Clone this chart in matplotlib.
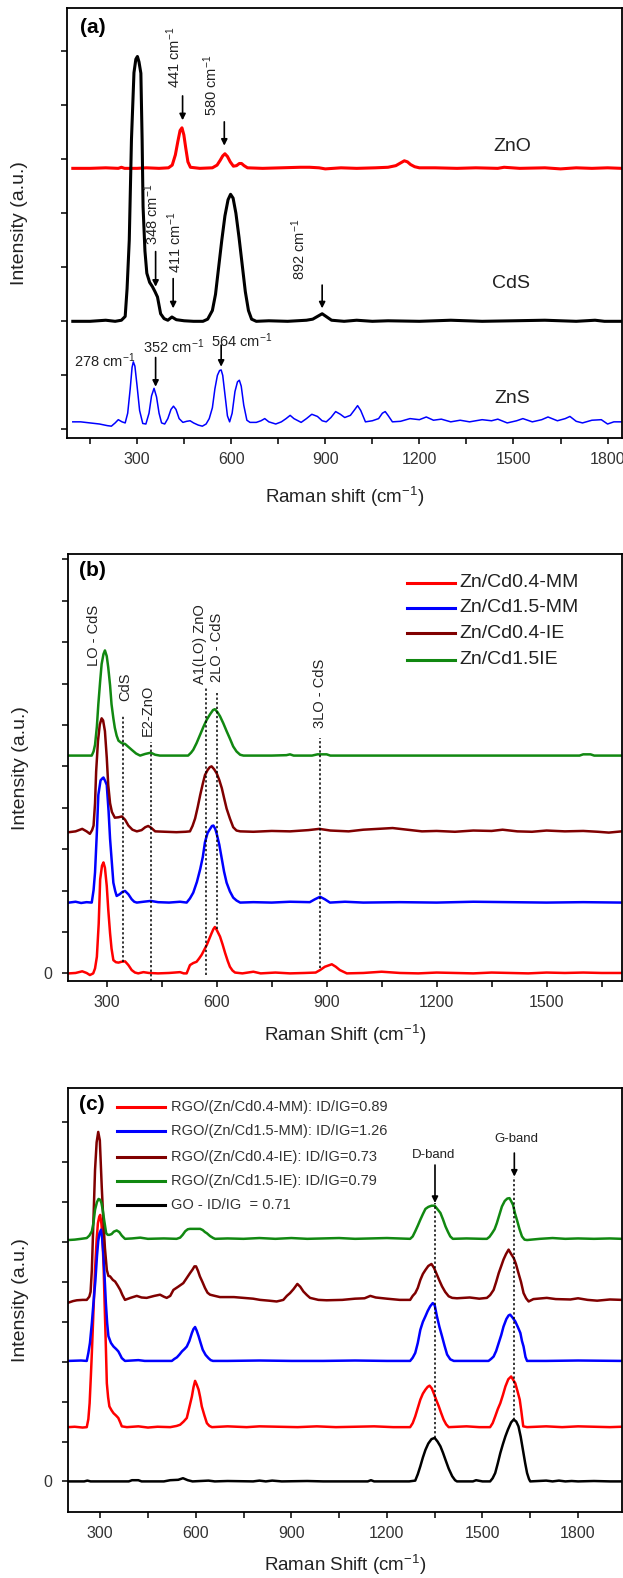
import numpy as np
import matplotlib
matplotlib.use('Agg')
import matplotlib.pyplot as plt
from matplotlib.ticker import MultipleLocator

plt.rcParams['font.family'] = ['Liberation Sans', 'DejaVu Sans']
plt.rcParams['mathtext.default'] = 'regular'

RED, BLUE, MAROON, GREEN, BLACK = '#ff0000', '#0000ff', '#800000', '#118811', '#000000'
TXT = '#222222'

# ---------------- panel (a): reference phases ----------------
A_NAMES = ['ZnO', 'CdS', 'ZnS']
A_OFFSETS = [4.83, 2.0, 0.0]
ZNO = [(95, 0), (150, 0), (200, 0.01), (240, 0), (250, 0.02), (260, 0), (300, 0), (330, 0.01),
       (370, 0), (400, 0.01), (412, 0.06), (422, 0.25), (430, 0.5), (437, 0.7), (443, 0.75),
       (449, 0.62), (455, 0.38), (462, 0.12), (470, 0.02), (500, 0), (540, 0.01), (555, 0.06),
       (565, 0.15), (573, 0.23), (580, 0.27), (588, 0.22), (597, 0.12), (607, 0.04), (617, 0.05),
       (626, 0.09), (633, 0.09), (641, 0.05), (652, 0.01), (700, 0), (760, 0.01), (820, 0.02),
       (850, 0.02), (880, 0.01), (900, -0.01), (950, 0.01), (1000, 0), (1060, 0.01), (1100, 0.02),
       (1125, 0.05), (1140, 0.1), (1152, 0.14), (1162, 0.12), (1172, 0.07), (1185, 0.03),
       (1200, 0.01), (1250, 0.01), (1320, 0), (1380, 0.01), (1450, 0), (1470, 0.02), (1520, 0),
       (1600, 0.01), (1650, -0.01), (1700, 0.01), (1750, 0), (1800, 0.01), (1845, 0)]
CDS = [(95, 0), (150, 0), (200, 0.02), (230, 0), (250, 0.02), (262, 0.09), (268, 0.6), (275, 1.5),
       (282, 3.36), (290, 4.6), (296, 4.85), (301, 4.9), (306, 4.8), (312, 4.59), (316, 3.36),
       (319, 2.12), (325, 1.3), (331, 0.89), (340, 0.72), (349, 0.64), (357, 0.55), (365, 0.45),
       (375, 0.14), (386, 0.05), (398, 0.02), (411, 0.08), (425, 0.03), (450, 0.01), (480, 0),
       (510, 0), (525, 0.04), (540, 0.2), (550, 0.5), (560, 1.0), (570, 1.5), (580, 1.95),
       (590, 2.25), (598, 2.35), (606, 2.28), (615, 2.0), (625, 1.55), (635, 1.05), (645, 0.55),
       (655, 0.2), (665, 0.04), (680, 0), (720, 0.01), (780, 0), (840, 0.02), (860, 0.04),
       (875, 0.09), (890, 0.14), (905, 0.08), (920, 0.02), (960, 0), (1000, 0.02), (1050, 0),
       (1100, 0.01), (1200, 0), (1300, 0.02), (1400, 0), (1500, 0.01), (1600, 0.02), (1700, 0),
       (1760, 0.02), (1790, 0), (1845, 0)]
ZNS = [(95, 0.14), (120, 0.14), (150, 0.12), (180, 0.1), (205, 0.07), (218, 0.06), (230, 0.12),
       (240, 0.18), (252, 0.14), (262, 0.12), (270, 0.3), (278, 0.75), (284, 1.15), (288, 1.25),
       (293, 1.17), (300, 0.8), (308, 0.35), (318, 0.11), (328, 0.1), (338, 0.3), (346, 0.62),
       (354, 0.76), (362, 0.6), (370, 0.3), (378, 0.12), (388, 0.1), (398, 0.2), (408, 0.37),
       (416, 0.43), (424, 0.37), (434, 0.2), (446, 0.13), (458, 0.15), (469, 0.16), (480, 0.12),
       (495, 0.08), (508, 0.06), (520, 0.1), (530, 0.2), (540, 0.4), (548, 0.75), (556, 1.0),
       (563, 1.09), (568, 1.1), (573, 1.0), (580, 0.65), (588, 0.25), (595, 0.14), (603, 0.3),
       (612, 0.7), (620, 0.88), (626, 0.91), (632, 0.8), (640, 0.45), (650, 0.17), (660, 0.13),
       (680, 0.13), (695, 0.16), (707, 0.2), (720, 0.14), (742, 0.1), (760, 0.14), (775, 0.2),
       (788, 0.26), (800, 0.2), (823, 0.13), (840, 0.2), (857, 0.28), (875, 0.24), (890, 0.16),
       (903, 0.14), (918, 0.22), (933, 0.33), (948, 0.28), (962, 0.22), (980, 0.26), (993, 0.36),
       (1003, 0.44), (1013, 0.35), (1028, 0.14), (1050, 0.16), (1070, 0.2), (1082, 0.3),
       (1091, 0.33), (1100, 0.26), (1114, 0.14), (1140, 0.15), (1170, 0.2), (1200, 0.18),
       (1222, 0.23), (1245, 0.17), (1270, 0.19), (1300, 0.14), (1330, 0.17), (1360, 0.14),
       (1400, 0.18), (1430, 0.16), (1450, 0.19), (1480, 0.12), (1510, 0.16), (1530, 0.2),
       (1560, 0.14), (1590, 0.18), (1610, 0.23), (1640, 0.16), (1665, 0.2), (1680, 0.24),
       (1700, 0.15), (1720, 0.12), (1750, 0.17), (1780, 0.18), (1800, 0.1), (1820, 0.14), (1845, 0.14)]

# ---------------- panel (b): Zn/Cd composites ----------------
B_NAMES = ['Zn/Cd0.4-MM', 'Zn/Cd1.5-MM', 'Zn/Cd0.4-IE', 'Zn/Cd1.5IE']
B_OFFSETS = [0.0, 1.71, 3.41, 5.26]
B_RED = [(197, 0), (215, 0.01), (233, 0.05), (245, 0.01), (254, -0.04), (263, 0), (268, 0.12),
         (273, 0.4), (278, 1.2), (282, 2.27), (287, 2.6), (291, 2.68), (295, 2.55), (300, 2.11),
         (304, 1.55), (309, 0.97), (313, 0.6), (318, 0.32), (325, 0.27), (332, 0.26), (340, 0.28),
         (350, 0.29), (359, 0.2), (368, 0.08), (377, 0.02), (386, 0), (400, 0.03), (415, 0.01),
         (440, 0), (470, 0.01), (500, 0.03), (510, 0), (518, 0), (527, 0.2), (536, 0.25),
         (545, 0.28), (552, 0.36), (559, 0.45), (566, 0.57), (573, 0.69), (580, 0.84), (586, 0.97),
         (591, 1.07), (595, 1.12), (600, 1.05), (609, 0.89), (616, 0.7), (623, 0.49), (630, 0.3),
         (636, 0.16), (643, 0.07), (650, 0.02), (670, 0), (700, 0.04), (720, 0), (760, 0.02),
         (800, 0), (840, 0.01), (870, 0.02), (882, 0.08), (895, 0.16), (914, 0.22), (925, 0.16),
         (936, 0.08), (955, 0), (1000, 0.01), (1050, 0.04), (1100, 0.01), (1150, 0), (1200, 0.02),
         (1250, 0.01), (1300, 0), (1350, 0.02), (1400, 0.01), (1450, 0), (1500, 0.02),
         (1550, 0.01), (1600, 0.02), (1650, 0.01), (1705, 0.01)]
B_BLUE = [(197, 0), (215, 0.02), (230, -0.01), (245, 0.01), (259, 0), (264, 0.3), (268, 0.73),
          (273, 1.7), (277, 2.6), (283, 2.95), (288, 3.0), (291, 3.02), (296, 2.93), (300, 2.84),
          (305, 2.2), (309, 1.54), (314, 0.95), (318, 0.48), (323, 0.28), (327, 0.16), (335, 0.2),
          (343, 0.26), (350, 0.28), (359, 0.2), (368, 0.08), (375, 0.02), (382, 0), (400, 0.02),
          (420, 0.04), (440, 0.01), (470, 0), (500, 0.02), (518, 0), (527, 0.1), (536, 0.24),
          (546, 0.5), (555, 0.81), (562, 1.1), (568, 1.46), (575, 1.68), (582, 1.78), (587, 1.85),
          (591, 1.86), (596, 1.78), (600, 1.66), (607, 1.4), (614, 1.05), (620, 0.75), (627, 0.48),
          (636, 0.27), (645, 0.12), (654, 0.05), (664, 0), (700, 0.01), (750, 0), (800, 0.02),
          (854, 0.01), (868, 0.08), (882, 0.14), (895, 0.08), (909, 0), (950, 0.02), (1000, 0),
          (1100, 0.01), (1200, 0), (1300, 0.02), (1400, 0.01), (1500, 0), (1600, 0.01), (1705, 0)]
B_MAROON = [(197, 0), (215, 0.02), (233, 0.08), (245, 0.02), (254, -0.04), (260, 0.05),
            (264, 0.16), (268, 0.7), (271, 1.46), (276, 2.2), (281, 2.6), (286, 2.75), (290, 2.7),
            (295, 2.44), (300, 1.8), (304, 1.14), (309, 0.7), (314, 0.49), (322, 0.35), (332, 0.36),
            (341, 0.38), (350, 0.3), (359, 0.16), (370, 0.06), (382, 0.02), (395, 0.05), (405, 0.12),
            (413, 0.15), (422, 0.1), (432, 0.02), (460, 0.01), (490, 0), (515, 0.01), (527, 0.02),
            (534, 0.15), (541, 0.33), (548, 0.6), (555, 0.9), (562, 1.17), (568, 1.38), (575, 1.5),
            (581, 1.57), (586, 1.59), (593, 1.52), (600, 1.42), (607, 1.26), (614, 1.06), (620, 0.83),
            (627, 0.57), (636, 0.33), (645, 0.12), (654, 0.04), (664, 0.02), (700, 0.01), (750, 0.03),
            (800, 0.02), (850, 0.05), (880, 0.08), (910, 0.04), (960, 0.02), (1000, 0.06),
            (1040, 0.08), (1080, 0.1), (1120, 0.06), (1160, 0.02), (1200, 0.03), (1250, 0.01),
            (1300, 0.04), (1350, 0.03), (1380, 0.06), (1420, 0.02), (1460, 0.01), (1500, 0.04),
            (1550, 0.02), (1600, 0.03), (1640, 0.01), (1670, -0.01), (1705, 0.02)]
B_GREEN = [(197, 0), (230, 0), (259, 0), (264, 0.1), (268, 0.26), (273, 0.7), (277, 1.24),
           (282, 1.8), (286, 2.21), (291, 2.45), (295, 2.54), (300, 2.4), (304, 2.13), (309, 1.7),
           (313, 1.24), (318, 0.9), (322, 0.67), (327, 0.48), (332, 0.36), (341, 0.3), (350, 0.28),
           (359, 0.21), (368, 0.14), (380, 0.05), (391, 0), (405, 0.04), (420, 0.07), (432, 0.02),
           (445, 0), (480, 0), (522, 0), (530, 0.07), (536, 0.14), (545, 0.3), (555, 0.51),
           (564, 0.7), (573, 0.87), (582, 1.0), (590, 1.1), (595, 1.12), (602, 1.05), (609, 0.95),
           (618, 0.78), (627, 0.59), (636, 0.41), (645, 0.22), (654, 0.1), (664, 0.02), (673, 0),
           (750, 0), (790, 0.01), (800, 0.03), (810, 0), (860, 0), (875, 0.03), (900, 0.03),
           (910, 0), (1000, 0), (1200, 0), (1400, 0), (1590, 0), (1600, 0.03), (1620, 0.03),
           (1630, 0), (1705, 0)]

# ---------------- panel (c): RGO composites ----------------
C_NAMES = ['RGO/(Zn/Cd0.4-MM): ID/IG=0.89', 'RGO/(Zn/Cd1.5-MM): ID/IG=1.26',
           'RGO/(Zn/Cd0.4-IE): ID/IG=0.73', 'RGO/(Zn/Cd1.5-IE): ID/IG=0.79', 'GO - ID/IG  = 0.71']
C_OFFSETS = [1.36, 3.02, 4.55, 6.08, 0.0]
C_RED = [(200, 0), (220, 0.01), (245, -0.01), (258, 0), (263, 0.2), (267, 0.6), (271, 1.3),
         (274, 1.86), (279, 2.9), (284, 3.94), (289, 4.7), (293, 5.11), (297, 5.27), (300, 5.32),
         (304, 5.1), (307, 4.78), (311, 4.0), (314, 3.11), (318, 2.0), (321, 1.1), (325, 0.75),
         (329, 0.52), (336, 0.42), (342, 0.35), (350, 0.29), (357, 0.23), (363, 0.12), (368, 0.02),
         (384, 0), (420, 0.02), (450, -0.01), (480, 0.01), (520, 0), (540, 0.03), (551, 0.06),
         (562, 0.14), (572, 0.23), (580, 0.5), (588, 0.77), (593, 1.0), (598, 1.16), (603, 1.07),
         (609, 0.94), (614, 0.75), (619, 0.52), (627, 0.3), (635, 0.1), (643, 0.03), (651, 0),
         (700, 0.02), (760, 0), (800, 0.02), (860, 0.01), (920, 0), (980, 0.02), (1040, 0),
         (1100, 0.01), (1160, 0.02), (1220, 0), (1273, 0), (1281, 0.1), (1289, 0.27), (1297, 0.48),
         (1305, 0.69), (1313, 0.84), (1321, 0.94), (1328, 1.01), (1334, 1.04), (1341, 0.97),
         (1347, 0.85), (1355, 0.68), (1363, 0.52), (1370, 0.36), (1378, 0.19), (1386, 0.07),
         (1394, 0), (1450, 0.02), (1490, 0), (1524, 0), (1532, 0.1), (1540, 0.27), (1548, 0.45),
         (1556, 0.6), (1564, 0.8), (1572, 1.02), (1581, 1.2), (1590, 1.27), (1597, 1.18),
         (1603, 1.1), (1610, 0.9), (1617, 0.69), (1622, 0.4), (1628, 0.02), (1640, 0), (1700, 0.02),
         (1750, 0), (1800, 0.02), (1850, 0.01), (1900, 0), (1937, 0.01)]
C_BLUE = [(200, 0), (240, 0.01), (258, 0), (263, 0.2), (268, 0.45), (274, 0.95), (279, 1.45),
          (285, 2.0), (290, 2.62), (294, 3.0), (298, 3.2), (303, 3.29), (306, 3.1), (310, 2.7),
          (314, 2.1), (318, 1.45), (322, 0.95), (326, 0.62), (334, 0.45), (342, 0.36), (350, 0.3),
          (357, 0.24), (363, 0.15), (368, 0.07), (378, 0), (420, 0.02), (440, 0), (525, 0),
          (533, 0.05), (541, 0.09), (549, 0.16), (557, 0.24), (565, 0.3), (572, 0.36), (580, 0.5),
          (588, 0.7), (593, 0.8), (598, 0.85), (603, 0.76), (609, 0.62), (615, 0.46), (622, 0.28),
          (631, 0.15), (640, 0.07), (647, 0.02), (654, 0), (700, 0), (800, 0.01), (900, 0),
          (1000, 0), (1100, 0.01), (1200, 0), (1273, 0), (1281, 0.08), (1289, 0.2), (1297, 0.45),
          (1305, 0.78), (1313, 0.98), (1321, 1.12), (1328, 1.25), (1336, 1.37), (1344, 1.45),
          (1350, 1.4), (1357, 1.12), (1365, 0.85), (1373, 0.62), (1381, 0.38), (1389, 0.16),
          (1399, 0.04), (1410, 0), (1519, 0), (1527, 0.05), (1535, 0.11), (1543, 0.25), (1551, 0.45),
          (1559, 0.65), (1566, 0.86), (1575, 1.05), (1582, 1.14), (1587, 1.16), (1595, 1.08),
          (1603, 0.99), (1611, 0.85), (1619, 0.7), (1624, 0.5), (1629, 0.36), (1635, 0.1),
          (1640, 0), (1700, 0), (1800, 0.01), (1937, 0)]
C_MAROON = [(200, -0.07), (215, -0.03), (227, -0.01), (245, 0), (258, 0), (266, 0.08), (270, 0.2),
            (274, 0.75), (279, 2.0), (284, 3.26), (289, 3.95), (294, 4.21), (299, 4.0), (305, 2.84),
            (310, 2.0), (315, 1.3), (321, 0.75), (326, 0.6), (331, 0.59), (340, 0.5), (347, 0.46),
            (355, 0.36), (363, 0.25), (370, 0.12), (378, 0.0), (395, 0.05), (415, 0.1), (430, 0.06),
            (446, 0.05), (470, 0.1), (488, 0.13), (500, 0.08), (509, 0.05), (520, 0.1), (530, 0.25),
            (545, 0.33), (561, 0.42), (572, 0.55), (582, 0.67), (590, 0.76), (596, 0.84),
            (601, 0.84), (607, 0.73), (613, 0.59), (621, 0.45), (629, 0.3), (637, 0.18), (645, 0.13),
            (660, 0.1), (676, 0.07), (720, 0.07), (750, 0.05), (780, 0.03), (802, 0), (830, -0.02),
            (854, -0.04), (865, -0.02), (875, 0), (886, 0.1), (896, 0.17), (907, 0.27), (919, 0.4),
            (928, 0.33), (938, 0.21), (949, 0.12), (959, 0.05), (985, 0.0), (1011, -0.01), (1060, 0),
            (1100, 0.03), (1130, 0.04), (1148, 0.1), (1165, 0.06), (1200, 0.03), (1240, 0),
            (1273, 0), (1281, 0.1), (1289, 0.17), (1297, 0.3), (1305, 0.5), (1313, 0.65),
            (1321, 0.75), (1330, 0.85), (1340, 0.9), (1348, 0.8), (1355, 0.67), (1364, 0.5),
            (1373, 0.34), (1383, 0.2), (1394, 0.09), (1405, 0.05), (1420, 0.04), (1460, 0.06),
            (1490, 0.03), (1514, 0.05), (1524, 0.12), (1535, 0.25), (1543, 0.45), (1551, 0.67),
            (1559, 0.85), (1566, 1.01), (1574, 1.15), (1582, 1.26), (1590, 1.15), (1598, 1.05),
            (1605, 0.9), (1613, 0.67), (1621, 0.45), (1629, 0.17), (1637, 0.04), (1645, -0.04),
            (1660, 0.02), (1702, 0.05), (1730, 0.02), (1776, 0.01), (1800, 0.04), (1830, 0.0),
            (1860, -0.02), (1900, 0.01), (1937, 0.0)]
C_GREEN = [(200, -0.03), (220, -0.02), (240, 0.0), (258, 0.02), (266, 0.08), (274, 0.19),
           (279, 0.4), (284, 0.73), (290, 0.92), (295, 1.0), (300, 0.98), (304, 0.9), (308, 0.73),
           (313, 0.45), (319, 0.14), (324, 0.1), (329, 0.1), (336, 0.12), (343, 0.18), (352, 0.21),
           (360, 0.17), (368, 0.08), (378, 0.0), (400, 0.01), (426, 0.03), (450, 0.0), (500, 0.01),
           (540, 0.0), (551, 0.03), (559, 0.1), (567, 0.19), (575, 0.24), (582, 0.25), (600, 0.25),
           (614, 0.25), (622, 0.22), (629, 0.17), (635, 0.14), (645, 0.07), (655, 0.02), (661, 0),
           (700, 0.01), (750, 0.0), (800, 0.02), (850, 0.0), (900, 0.02), (950, 0.0), (1000, 0.01),
           (1050, 0.02), (1100, 0.0), (1150, 0.01), (1200, 0.02), (1273, 0), (1281, 0.06),
           (1289, 0.19), (1297, 0.33), (1305, 0.48), (1313, 0.62), (1321, 0.75), (1330, 0.8),
           (1340, 0.83), (1350, 0.83), (1359, 0.74), (1368, 0.65), (1376, 0.49), (1384, 0.31),
           (1392, 0.17), (1399, 0.06), (1407, 0.0), (1450, 0.01), (1500, 0.0), (1514, 0.0),
           (1522, 0.05), (1530, 0.14), (1538, 0.24), (1545, 0.39), (1553, 0.6), (1561, 0.81),
           (1570, 0.95), (1578, 1.01), (1585, 1.02), (1591, 0.93), (1596, 0.85), (1602, 0.64),
           (1608, 0.48), (1616, 0.25), (1624, 0.06), (1632, -0.02), (1640, -0.03), (1680, 0.0),
           (1720, 0.02), (1760, 0.0), (1800, 0.01), (1850, 0.0), (1900, 0.01), (1937, 0.0)]
C_GO = [(200, 0), (250, 0), (260, 0.02), (270, 0), (390, 0), (400, 0.03), (420, 0.03), (430, 0),
        (500, 0), (520, 0.03), (545, 0.04), (560, 0.08), (575, 0.03), (590, 0), (640, 0.02),
        (660, 0), (700, 0.01), (780, 0), (800, 0.02), (820, 0), (840, 0.02), (870, 0), (950, 0.01),
        (1000, 0), (1140, 0), (1150, 0.03), (1160, 0), (1270, 0), (1289, 0.02), (1297, 0.18),
        (1305, 0.38), (1313, 0.6), (1321, 0.79), (1330, 0.95), (1340, 1.06), (1350, 1.09),
        (1359, 1.0), (1368, 0.88), (1376, 0.72), (1384, 0.54), (1394, 0.32), (1405, 0.13),
        (1414, 0.03), (1420, 0), (1470, 0), (1480, 0.03), (1500, 0), (1524, 0), (1532, 0.08),
        (1540, 0.21), (1548, 0.45), (1556, 0.71), (1564, 0.93), (1572, 1.13), (1580, 1.3),
        (1590, 1.48), (1598, 1.55), (1606, 1.5), (1613, 1.38), (1620, 1.12), (1627, 0.79),
        (1634, 0.46), (1640, 0.21), (1646, 0.06), (1650, 0), (1700, 0.02), (1720, 0), (1740, 0.02),
        (1760, 0), (1780, 0.01), (1800, 0), (1850, 0.01), (1900, 0), (1937, 0)]


def style_axis(ax, xlim, ylim, ntick, zero_label):
    ax.set_xlim(*xlim)
    ax.set_ylim(*ylim)
    ax.xaxis.set_major_locator(MultipleLocator(300))
    ax.xaxis.set_minor_locator(MultipleLocator(150))
    ax.set_yticks(range(ntick + 1))
    ax.set_yticklabels((['0'] if zero_label else ['']) + [''] * ntick)
    ax.tick_params(which='both', direction='out', length=4.3, width=1.1,
                   labelsize=11.5, labelcolor='#333333')
    ax.tick_params(axis='x', pad=6)
    ax.tick_params(axis='y', pad=7)
    for s in ax.spines.values():
        s.set_linewidth(1.3)


def add_labels(ax, xlab, ypos):
    ax.set_xlabel(xlab, fontsize=13.5, color=TXT)
    ax.xaxis.set_label_coords(0.5, ypos)
    ax.xaxis.label.set_verticalalignment('center')
    ax.set_ylabel('Intensity (a.u.)', fontsize=14, color=TXT)
    ax.yaxis.set_label_coords(-0.086, 0.5)
    ax.yaxis.label.set_verticalalignment('center')


def arrow(ax, x, y0, y1):
    ax.annotate('', xy=(x, y1), xytext=(x, y0),
                arrowprops=dict(arrowstyle='-|>', color='k', lw=1.2, mutation_scale=9,
                                shrinkA=0, shrinkB=0))


fig = plt.figure(figsize=(6.23, 15.78), dpi=100)
fig.patch.set_facecolor('white')
axa = fig.add_axes([0.1083, 0.7226, 0.8896, 0.2721])
axb = fig.add_axes([0.1096, 0.3783, 0.8883, 0.2704])
axc = fig.add_axes([0.1096, 0.0420, 0.8883, 0.2685])

# ---- (a)
for data, off, col, lw in zip([ZNO, CDS, ZNS], A_OFFSETS, [RED, BLACK, BLUE], [2.2, 2.2, 1.1]):
    arr = np.array(data)
    axa.plot(arr[:, 0], arr[:, 1] + off, color=col, lw=lw)
style_axis(axa, (78, 1845), (-0.154, 7.79), 7, False)
add_labels(axa, 'Raman shift (cm$^{-1}$)', -0.138)
axa.text(118, 7.43, '(a)', fontsize=15, fontweight='bold', va='center')
for name, x, y in zip(A_NAMES, [1497, 1492, 1497], [5.23, 2.70, 0.57]):
    axa.text(x, y, name, fontsize=14, ha='center', va='center', color=TXT)
for x, y, t in [(416, 6.31, '441'), (536, 5.79, '580'), (347, 3.41, '348'),
                (419, 2.89, '411'), (814, 2.76, '892')]:
    axa.text(x, y, t + ' cm$^{-1}$', rotation=90, fontsize=10.5, ha='center', va='bottom', color=TXT)
for x, y, t in [(100, 1.28, '278'), (318, 1.53, '352'), (536, 1.65, '564')]:
    axa.text(x, y, t + ' cm$^{-1}$', fontsize=10.5, ha='left', va='center', color=TXT)
for x, y0, y1 in [(445, 6.17, 5.72), (578, 5.69, 5.25), (359, 3.29, 2.64), (415, 2.79, 2.24),
                  (890, 2.67, 2.24), (359, 1.33, 0.79), (568, 1.56, 1.16)]:
    arrow(axa, x, y0, y1)

# ---- (b)
b_colors = [RED, BLUE, MAROON, GREEN]
for data, off, col in zip([B_RED, B_BLUE, B_MAROON, B_GREEN], B_OFFSETS, b_colors):
    arr = np.array(data)
    axb.plot(arr[:, 0], arr[:, 1] + off, color=col, lw=1.8)
style_axis(axb, (195, 1705), (-0.185, 10.12), 10, True)
add_labels(axb, 'Raman Shift (cm$^{-1}$)', -0.127)
axb.text(224, 9.74, '(b)', fontsize=15, fontweight='bold', va='center')
for x, y0, y1 in [(345, 0.28, 6.21), (420, -0.185, 5.6), (570, -0.04, 6.9),
                  (600, 1.06, 6.78), (882, 0.12, 5.69)]:
    axb.plot([x, x], [y0, y1], color='k', lw=1.1, ls=(0, (1.5, 1.5)))
for x, y, t in [(264, 7.43, 'LO - CdS'), (350, 6.58, 'CdS'), (411, 5.73, 'E2-ZnO'),
                (554, 6.99, 'A1(LO) ZnO'), (600, 7.03, '2LO - CdS'), (882, 5.93, '3LO - CdS')]:
    axb.text(x, y, t, rotation=90, fontsize=10.5, ha='center', va='bottom', color=TXT)
for name, col, y in zip(B_NAMES, b_colors, [9.44, 8.83, 8.21, 7.58]):
    axb.plot([1119, 1249], [y, y], color=col, lw=2.2)
    axb.text(1261, y, name, fontsize=14, va='center', color=TXT)

# ---- (c)
c_colors = [RED, BLUE, MAROON, GREEN, BLACK]
for data, off, col in zip([C_GO], [C_OFFSETS[4]], [BLACK]):
    arr = np.array(data)
    axc.plot(arr[:, 0], arr[:, 1] + off, color=col, lw=1.8)
for data, off, col in zip([C_RED, C_BLUE, C_MAROON, C_GREEN], C_OFFSETS[:4], c_colors[:4]):
    arr = np.array(data)
    axc.plot(arr[:, 0], arr[:, 1] + off, color=col, lw=1.8)
style_axis(axc, (200, 1937), (-0.76, 9.86), 9, True)
add_labels(axc, 'Raman Shift (cm$^{-1}$)', -0.126)
axc.text(234, 9.44, '(c)', fontsize=15, fontweight='bold', va='center')
for x, y0, y1 in [(1351, 1.09, 6.98), (1600, 1.55, 7.64)]:
    axc.plot([x, x], [y0, y1], color='k', lw=1.1, ls=(0, (1.5, 1.5)))
arrow(axc, 1351, 7.93, 6.98)
arrow(axc, 1600, 8.23, 7.64)
axc.text(1348, 8.17, 'D-band', fontsize=9.5, ha='center', va='center', color=TXT)
axc.text(1607, 8.57, 'G-band', fontsize=9.5, ha='center', va='center', color=TXT)
for name, col, y in zip(C_NAMES, c_colors, [9.38, 8.78, 8.12, 7.54, 6.93]):
    axc.plot([354, 504], [y, y], color=col, lw=2.2)
    axc.text(522, y, name, fontsize=10.5, va='center', color='#333333')

fig.savefig('out.png', dpi=100, facecolor='white')
